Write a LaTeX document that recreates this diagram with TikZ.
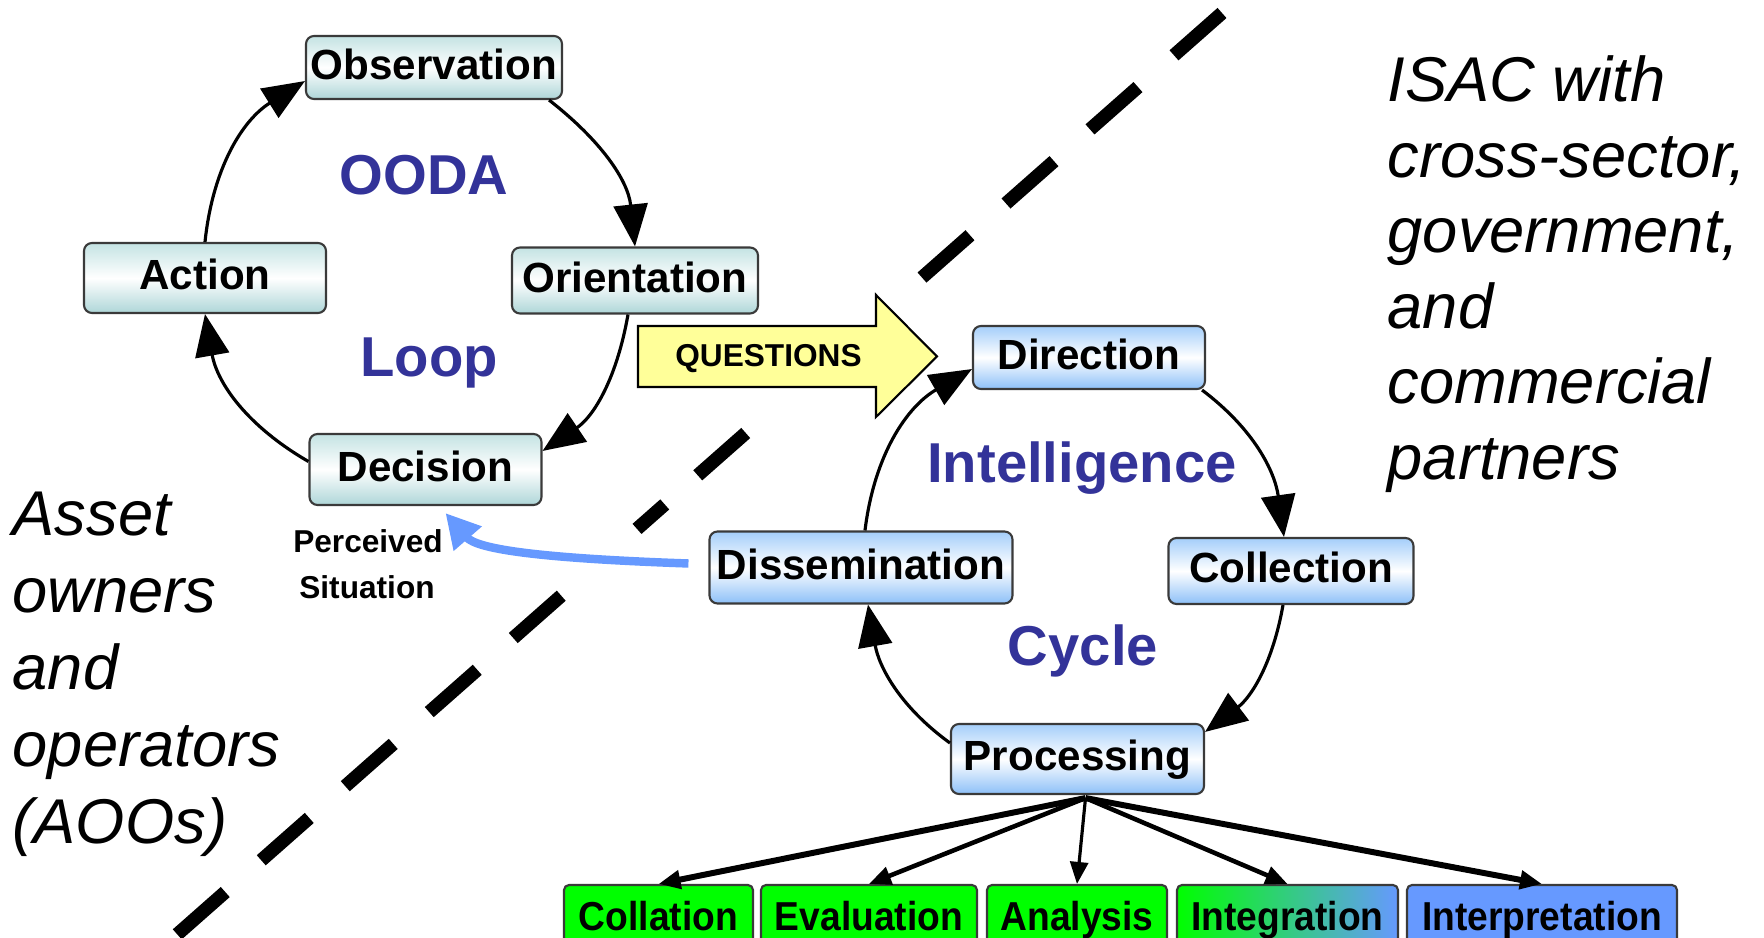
\documentclass[tikz,border=0pt]{standalone}
\usepackage{fontspec}
\usetikzlibrary{arrows.meta,calc}
\newfontfamily\arialfont{Liberation Sans}
\newfontfamily\condfont[FakeStretch=0.92]{Liberation Sans}
\definecolor{oodatop}{HTML}{C4E3E3}
\definecolor{oodabot}{HTML}{AED6D8}
\definecolor{inttop}{HTML}{A4CEFA}
\definecolor{intbot}{HTML}{8DC0F8}
\definecolor{loopblue}{HTML}{333399}
\definecolor{stepgreen}{HTML}{00FF00}
\definecolor{stepblue}{HTML}{6699FF}
\definecolor{qyellow}{HTML}{FFFF99}
\definecolor{edgegray}{HTML}{3A3A3A}

\tikzset{
  box/.style={draw=edgegray, line width=0.6pt, rounded corners=0.8mm, inner sep=0pt,
    font=\arialfont\bfseries\fontsize{12}{14}\selectfont, text height=9.6pt, text depth=3pt},
  oodabox/.style={box, top color=oodatop, bottom color=oodabot, middle color=white},
  intbox/.style={box, top color=inttop, bottom color=intbot, middle color=white},
  substep/.style={draw=edgegray, line width=0.6pt, rounded corners=0.5mm, inner sep=0pt,
    font=\condfont\bfseries\fontsize{11.5}{13}\selectfont, text height=10.2pt, text depth=2pt,
    minimum height=6.2mm},
  cyclearrow/.style={line width=0.9pt, -{Triangle[length=4.2mm,width=3.4mm]}},
  fanarrow/.style={-{Triangle[length=2.2mm,width=1.8mm]}},
  biglabel/.style={text=loopblue, font=\arialfont\bfseries\fontsize{16}{19}\selectfont,
    anchor=base, inner sep=0pt},
  sidetext/.style={font=\arialfont\itshape\fontsize{18}{21.5}\selectfont,
    anchor=base west, inner sep=0pt},
  smalltext/.style={font=\arialfont\bfseries\fontsize{9}{11}\selectfont,
    anchor=base, inner sep=0pt},
}

\begin{document}
\begin{tikzpicture}[x=0.1mm,y=0.1mm]
\useasboundingbox (0,0) rectangle (1764,-938);
\clip (0,0) rectangle (1764,-938);

% diagonal separator between the two sides
\draw[line width=1.35mm, line cap=butt,
  dash pattern=on 6.4mm off 4.8mm on 6.4mm off 4.8mm on 6.4mm off 4.8mm on 6.4mm off 23.5mm
  on 6.4mm off 4.4mm on 3.7mm off 10.1mm on 6.4mm off 4.8mm on 6.4mm off 4.8mm
  on 6.4mm off 4.8mm on 6.4mm off 4.8mm on 6.4mm off 4.8mm]
  (1222,-13) -- (172,-939);

% OODA loop
\node[oodabox, minimum width=25.6mm, minimum height=6.3mm] (obs) at (434,-67.5) {Observation};
\node[oodabox, minimum width=24.2mm, minimum height=7.0mm] (act) at (205,-278) {Action};
\node[oodabox, minimum width=24.6mm, minimum height=6.6mm] (ori) at (635,-280.5) {Orientation};
\node[oodabox, minimum width=23.2mm, minimum height=7.1mm] (dec) at (425.5,-469.5) {Decision};

\node[biglabel] (ooda) at (424,-195) {OODA};
\node[biglabel] (loop) at (429,-377) {Loop};

\draw[cyclearrow] (act.north) to[out=84,in=212] ($(obs.south west)+(0,19)$);
\draw[cyclearrow] ($(obs.south east)+(-14,0)$) to[out=-38,in=96] (ori.north);
\draw[cyclearrow] ($(ori.south)+(-7,0)$) to[out=-100,in=34] ($(dec.north east)+(0,-18)$);
\draw[cyclearrow] ($(dec.west)+(0,8)$) to[out=150,in=-80] (act.south);

\node[smalltext] (perc) at (368,-553) {Perceived};
\node[smalltext] (sit) at (367,-599) {Situation};

% questions passed across the divide
\draw[fill=qyellow, draw=black, line width=0.6pt]
  (638,-326) -- (876,-326) -- (876,-295) -- (937,-356.5) -- (876,-417) -- (876,-387)
  -- (638,-387) -- cycle;
\node[font=\arialfont\bfseries\fontsize{9}{11}\selectfont, inner sep=0pt] (quest)
  at (768.5,-358.5) {QUESTIONS};

% intelligence cycle
\node[intbox, minimum width=23.2mm, minimum height=6.3mm] (dir) at (1089,-357.5) {Direction};
\node[intbox, minimum width=24.5mm, minimum height=6.6mm] (col) at (1291,-571) {Collection};
\node[intbox, minimum width=30.3mm, minimum height=7.2mm] (dis) at (861,-567.5) {Dissemination};
\node[intbox, minimum width=25.3mm, minimum height=7.0mm] (pro) at (1077.5,-759) {Processing};

\node[biglabel] (intel) at (1082,-483) {Intelligence};
\node[biglabel] (cycle) at (1083,-666) {Cycle};

\draw[cyclearrow] ($(dir.south east)+(-4,0)$) to[out=-37,in=98] ($(col.north)+(-7,0)$);
\draw[cyclearrow] ($(col.south)+(-8,0)$) to[out=-100,in=37] ($(pro.north east)+(0,-9)$);
\draw[cyclearrow] ($(pro.west)+(0,16)$) to[out=144,in=-80] ($(dis.south)+(7,0)$);
\draw[cyclearrow] ($(dis.north)+(4,0)$) to[out=83,in=210] ($(dir.south west)+(0,21)$);

% feedback to the decision maker
\draw[line width=2.4pt, stepblue, -{Triangle[length=3.4mm,width=3.5mm]}]
  ($(dis.west)+(-20,4)$) to[out=178,in=-49,out looseness=1.5,in looseness=0.5]
  ($(dec.south)+(20,-7)$);

% processing steps
\node[substep, fill=stepgreen, minimum width=18.9mm] (colla) at (658.5,-916) {Collation};
\node[substep, fill=stepgreen, minimum width=21.6mm] (eval) at (869,-916) {Evaluation};
\node[substep, fill=stepgreen, minimum width=18.0mm] (ana) at (1077,-916) {Analysis};
\node[substep, left color=stepgreen, right color=stepblue, minimum width=22.1mm] (integ)
  at (1287.5,-916) {Integration};
\node[substep, fill=stepblue, minimum width=27.0mm] (interp) at (1542,-916) {Interpretation};

\draw[fanarrow, line width=1.7pt] ($(pro.south)+(8,-3)$) -- (colla.north);
\draw[fanarrow, line width=1.3pt] ($(pro.south)+(8,-3)$) -- (eval.north);
\draw[fanarrow, line width=0.9pt] ($(pro.south)+(8,-3)$) -- (ana.north);
\draw[fanarrow, line width=1.3pt] ($(pro.south)+(8,-3)$) -- (integ.north);
\draw[fanarrow, line width=1.7pt] ($(pro.south)+(8,-3)$) -- (interp.north);

% the two communities
\node[sidetext] (isac1) at (1387,-102) {ISAC with};
\node[sidetext] (isac2) at (1387,-177.5) {cross-sector,};
\node[sidetext] (isac3) at (1387,-253) {government,};
\node[sidetext] (isac4) at (1387,-328.5) {and};
\node[sidetext] (isac5) at (1387,-404) {commercial};
\node[sidetext] (isac6) at (1387,-480) {partners};

\node[sidetext] (aoo1) at (12,-536) {Asset};
\node[sidetext] (aoo2) at (12,-613) {owners};
\node[sidetext] (aoo3) at (12,-690) {and};
\node[sidetext] (aoo4) at (12,-767) {operators};
\node[sidetext] (aoo5) at (12,-843.5) {(AOOs)};
\end{tikzpicture}
\end{document}
